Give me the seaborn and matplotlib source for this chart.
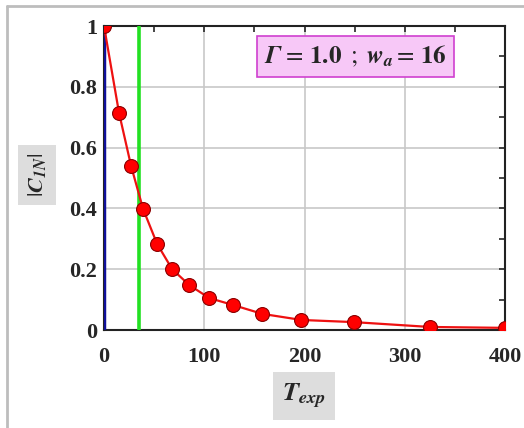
import numpy as np
import pandas as pd
import matplotlib
matplotlib.use("Agg")
import matplotlib.pyplot as plt
import seaborn as sns

# dane
t_exp = [0, 15, 27, 39, 53, 68, 85, 105, 129, 158, 197, 249, 325, 400]
c1n = [1.0, 0.714, 0.54, 0.398, 0.283, 0.20, 0.148, 0.105, 0.082, 0.053, 0.033, 0.026, 0.010, 0.007]
green_x = 35
blue_x = 0
x_ticks = [0, 100, 200, 300, 400]
y_ticks = [0, 0.2, 0.4, 0.6, 0.8, 1.0]
y_tick_labels = ["0", "0.2", "0.4", "0.6", "0.8", "1"]

df = pd.DataFrame({"T": t_exp, "C": c1n})

sns.set_style("white")
plt.rcParams["font.family"] = ["Liberation Serif", "DejaVu Serif"]
plt.rcParams["mathtext.fontset"] = "stix"

fig = plt.figure(figsize=(5.24, 4.28), dpi=100)
ax = fig.add_axes([104 / 524, 1 - 330 / 428, 401 / 524, 304 / 428])

ax.axvline(blue_x, color="#10109a", lw=3.2, zorder=3)
ax.axvline(green_x, color="#22e022", lw=2.6, zorder=3)
sns.lineplot(data=df, x="T", y="C", ax=ax, color="#ee1111", lw=1.6,
             marker="o", markersize=10, markerfacecolor="#ff0000",
             markeredgecolor="#8a0000", markeredgewidth=0.8, zorder=4)

ax.set_xlim(0, 400)
ax.set_ylim(0, 1)
ax.set_xticks(x_ticks)
ax.set_xticklabels([str(v) for v in x_ticks])
ax.set_yticks(y_ticks)
ax.set_yticklabels(y_tick_labels)
ax.set_xticks([50, 150, 250, 350], minor=True)
ax.set_yticks([0.1, 0.3, 0.5, 0.7, 0.9], minor=True)
ax.grid(True, which="major", color="#c8c8c8", lw=1.2)
ax.tick_params(which="both", direction="in", top=True, right=True, length=4, width=1.2)
ax.tick_params(which="major", labelsize=16)
ax.tick_params(axis="x", which="major", pad=12)
ax.tick_params(axis="y", which="major", pad=5)
for lab in ax.get_xticklabels() + ax.get_yticklabels():
    lab.set_fontweight("bold")
for s in ax.spines.values():
    s.set_color("#222222")
    s.set_linewidth(1.5)
ax.set_xlabel("")
ax.set_ylabel("")

ax.text(0.627, 0.90, r"$\mathbfit{\Gamma}\, =\, \mathbf{1.0}\;\;;\;\mathbfit{w}_{\mathbfit{a}} =\, \mathbf{16}$",
        transform=ax.transAxes, ha="center", va="center", fontsize=18,
        bbox=dict(boxstyle="square,pad=0.3", facecolor="#f7c8f7", edgecolor="#d040d0", lw=1.2), zorder=6)

fig.text(37 / 524, 1 - 175 / 428, r"$|\mathbfit{C}_{\mathbfit{1N}}|$", rotation=90,
         ha="center", va="center", fontsize=16,
         bbox=dict(boxstyle="square,pad=0.35", facecolor="#dddddd", edgecolor="none"))
fig.text(304 / 524, 1 - 396 / 428, r"$\mathbfit{T}_{\mathbfit{exp}}$",
         ha="center", va="center", fontsize=19,
         bbox=dict(boxstyle="square,pad=0.35", facecolor="#dddddd", edgecolor="none"))

# szara ramka wokol rysunku
fig.add_artist(plt.Line2D([7 / 524, 7 / 524], [0, 1 - 6 / 428], transform=fig.transFigure, color="#bdbdbd", lw=2))
fig.add_artist(plt.Line2D([7 / 524, 1], [1 - 6 / 428, 1 - 6 / 428], transform=fig.transFigure, color="#bdbdbd", lw=2))

fig.savefig("out.png", dpi=100)
